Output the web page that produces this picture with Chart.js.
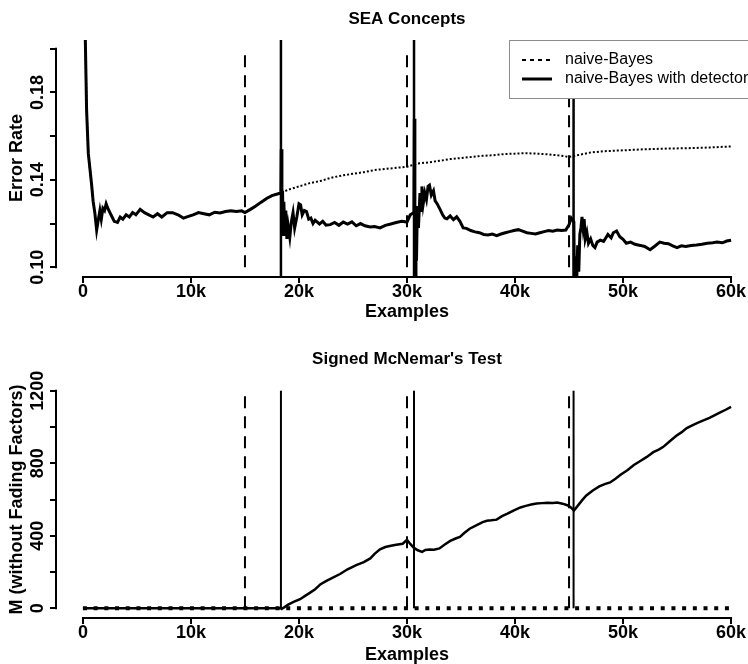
<!DOCTYPE html>
<html>
<head>
<meta charset="utf-8">
<script src="https://cdn.jsdelivr.net/npm/chart.js@4.4.1/dist/chart.umd.min.js"></script>
<style>
    html, body { margin: 0; padding: 0; background: #fff; }
    #wrap { width: 748px; height: 664px; overflow: hidden; }
    canvas { display: block; }
</style>
</head>
<body>
<div id="wrap">
    <canvas id="ErrorChart" width="760" height="332"></canvas>
    <canvas id="McNemarChart" width="760" height="332"></canvas>
</div>
<script>
// x axis (number of examples)
const examples_ticks = [0, 10000, 20000, 30000, 40000, 50000, 60000];
const examples_labels = ['0', '10k', '20k', '30k', '40k', '50k', '60k'];
const examples_range = [-2400, 62400];

// true drifts (dashed) and detections (solid)
const drift_points = [15000, 30000, 45000];
const detect_points = [18330, 30650, 45420];

// error rate, y axis
const error_ticks = [0.10, 0.12, 0.14, 0.16, 0.18, 0.20];
const error_tick_labels = ['0.10', '', '0.14', '', '0.18', ''];
const error_range = [0.096, 0.204];
const error_span = [0.10, 0.20];

// error rate before the first detection (both learners identical)
const err_shared = [
    [0, 0.60], [100, 0.30], [200, 0.21], [340, 0.172], [500, 0.152], [650, 0.145], [800, 0.138],
    [950, 0.130], [1100, 0.125], [1270, 0.117], [1400, 0.121], [1570, 0.126], [1700, 0.122],
    [1850, 0.127], [2000, 0.126], [2150, 0.129], [2300, 0.127], [2500, 0.125], [2700, 0.123],
    [2900, 0.121], [3200, 0.1205], [3450, 0.123], [3700, 0.122], [4000, 0.124], [4300, 0.123],
    [4600, 0.125], [4900, 0.124], [5300, 0.1265], [5700, 0.125], [6100, 0.124], [6500, 0.123],
    [6900, 0.1245], [7300, 0.123], [7800, 0.125], [8300, 0.125], [8800, 0.124], [9300, 0.1225],
    [9700, 0.1232], [10200, 0.124], [10700, 0.125], [11200, 0.1245], [11700, 0.124], [12200, 0.1252],
    [12700, 0.1248], [13200, 0.1255], [13700, 0.1258], [14200, 0.1255], [14700, 0.1258], [15000, 0.125],
    [15500, 0.1265], [16000, 0.128], [16500, 0.1298], [17000, 0.1315], [17500, 0.1328], [18000, 0.1335],
    [18330, 0.134]
];

// naive-Bayes after 18.3k
const err_nb = [
    [19000, 0.1355], [20000, 0.137], [21000, 0.1385], [22000, 0.1395], [23000, 0.141], [24000, 0.142],
    [25000, 0.1428], [26000, 0.1435], [27000, 0.1445], [28000, 0.145], [29000, 0.1455], [30000, 0.146],
    [31000, 0.1475], [32000, 0.148], [33000, 0.1487], [34000, 0.1495], [35000, 0.150], [36000, 0.1505],
    [37000, 0.151], [38000, 0.1513], [39000, 0.1518], [40000, 0.152], [41000, 0.1522], [42000, 0.152],
    [43000, 0.1517], [44000, 0.1512], [45000, 0.1505], [46000, 0.1515], [47000, 0.1525], [48000, 0.153],
    [49000, 0.1533], [50000, 0.1535], [52000, 0.154], [54000, 0.1543], [56000, 0.1545], [58000, 0.1548],
    [60000, 0.1553]
];

// naive-Bayes with detector after 18.3k (restarts at each detection)
const err_det = [
    [18360, 0.154], [18420, 0.122], [18480, 0.135], [18540, 0.115], [18600, 0.13], [18680, 0.118],
    [18780, 0.126], [18880, 0.113], [19000, 0.119], [19150, 0.1138], [19300, 0.121], [19450, 0.125],
    [19600, 0.118], [19800, 0.123], [20000, 0.129], [20150, 0.1285], [20300, 0.124], [20500, 0.126],
    [20700, 0.1255], [20900, 0.122], [21100, 0.1225], [21300, 0.120], [21500, 0.1215], [21700, 0.1207],
    [21900, 0.1198], [22200, 0.121], [22500, 0.1193], [22900, 0.1195], [23300, 0.1205], [23700, 0.1192],
    [24100, 0.1207], [24500, 0.1198], [24900, 0.1208], [25300, 0.119], [25700, 0.120], [26100, 0.119],
    [26600, 0.1184], [27000, 0.1186], [27500, 0.118], [28000, 0.1192], [28500, 0.1198], [29000, 0.1205],
    [29500, 0.121], [30000, 0.1207], [30300, 0.124], [30640, 0.125],
    [30680, 0.168], [30730, 0.100], [30780, 0.092], [30830, 0.125], [30880, 0.103], [30960, 0.128],
    [31060, 0.118], [31200, 0.134], [31300, 0.126], [31380, 0.137], [31500, 0.129], [31650, 0.134],
    [31800, 0.131], [31950, 0.137], [32080, 0.1375], [32250, 0.133], [32450, 0.135], [32600, 0.1305],
    [32800, 0.129], [33060, 0.1265], [33300, 0.124], [33500, 0.1225], [33700, 0.1222], [34000, 0.1235],
    [34300, 0.1218], [34600, 0.1231], [34900, 0.121], [35200, 0.118], [35500, 0.1178], [35900, 0.1168],
    [36300, 0.1162], [36700, 0.1158], [37100, 0.115], [37500, 0.1148], [37900, 0.1152], [38300, 0.1145],
    [38700, 0.1152], [39100, 0.1158], [39500, 0.1163], [39900, 0.1168], [40300, 0.1172], [40700, 0.1165],
    [41100, 0.1158], [41500, 0.1155], [41900, 0.1152], [42300, 0.1158], [42700, 0.1163], [43100, 0.1168],
    [43500, 0.1165], [43900, 0.117], [44300, 0.1168], [44700, 0.117], [45000, 0.1195], [45200, 0.1225],
    [45410, 0.121],
    [45450, 0.12], [45500, 0.09], [45560, 0.105], [45620, 0.085], [45700, 0.092], [45800, 0.11],
    [45900, 0.098], [46000, 0.115], [46100, 0.118], [46200, 0.123], [46300, 0.118], [46400, 0.122],
    [46500, 0.113], [46650, 0.116], [46800, 0.111], [47000, 0.113], [47200, 0.110], [47400, 0.109],
    [47600, 0.1115], [47900, 0.1124], [48200, 0.1118], [48600, 0.115], [48900, 0.1135], [49100, 0.1158],
    [49400, 0.1166], [49700, 0.114], [50000, 0.1128], [50300, 0.111], [50700, 0.1115], [51100, 0.1105],
    [51600, 0.110], [52000, 0.1095], [52500, 0.108], [52900, 0.1095], [53400, 0.1115], [53800, 0.111],
    [54200, 0.1108], [54600, 0.1098], [55000, 0.109], [55400, 0.1098], [55800, 0.1095], [56300, 0.110],
    [56800, 0.1102], [57300, 0.1105], [57800, 0.111], [58300, 0.1112], [58700, 0.1115], [59200, 0.1112],
    [59600, 0.112], [60000, 0.1124]
];

// signed McNemar statistic
const mcnemar_ticks = [0, 200, 400, 600, 800, 1000, 1200];
const mcnemar_tick_labels = ['0', '', '400', '', '800', '', '1200'];
const mcnemar_range = [-48, 1248];
const mcnemar_span = [0, 1200];

const mc_nb = [[0, 0], [60000, 0]];
const mc_det = [
    [0, 0], [18330, 0], [18400, -4], [18700, 8], [19000, 20], [19500, 35], [20100, 50], [20600, 70],
    [21000, 85], [21500, 105], [22000, 133], [22500, 150], [23000, 165], [23800, 189], [24500, 215],
    [25300, 238], [26000, 255], [26600, 275], [27000, 300], [27500, 325], [28000, 338], [28400, 344],
    [29000, 350], [29600, 356], [30000, 378], [30300, 355], [30650, 333], [31000, 320], [31400, 311],
    [31700, 322], [32100, 324], [32500, 323], [33000, 330], [33500, 352], [34000, 372], [34500, 385],
    [34900, 394], [35300, 415], [35800, 439], [36500, 460], [37000, 475], [37400, 483], [37800, 485],
    [38300, 489], [38800, 508], [39300, 522], [39900, 540], [40500, 556], [41000, 565], [41500, 572],
    [42000, 578], [42500, 580], [43000, 582], [43500, 581], [43900, 583], [44400, 577], [44900, 567],
    [45200, 555], [45450, 539], [45800, 565], [46200, 595], [46600, 622], [47200, 650], [47800, 672],
    [48300, 685], [48800, 694], [49300, 715], [49800, 738], [50400, 761], [51000, 790], [51600, 812],
    [52200, 835], [52800, 861], [53300, 875], [53700, 889], [54300, 920], [54900, 950], [55400, 970],
    [55900, 994], [56500, 1012], [57000, 1025], [57500, 1038], [58000, 1050], [58500, 1065],
    [59000, 1080], [59500, 1095], [60000, 1111]
];

Chart.defaults.font.family = '"Liberation Sans", Arial, sans-serif';
Chart.defaults.color = '#000';

const FONT_BOLD = { size: 18, weight: 'bold', lineHeight: 1 };

function toXY(pairs) {
    return pairs.map(p => ({ x: p[0], y: p[1] }));
}

function vLine(x, span, dash, width) {
    return {
        data: [{ x: x, y: span[0] }, { x: x, y: span[1] }],
        borderColor: '#000',
        borderWidth: width || 2,
        borderDash: dash,
        pointRadius: 0,
        order: 3
    };
}

// R style axis line: only from first to last tick
const rAxisLines = {
    id: 'rAxisLines',
    afterDatasetsDraw(chart) {
        const ctx = chart.ctx;
        const area = chart.chartArea;
        const xs = chart.scales.x, ys = chart.scales.y;
        const xt = xs.ticks, yt = ys.ticks;
        ctx.save();
        ctx.strokeStyle = '#000';
        ctx.lineWidth = 2;
        ctx.beginPath();
        ctx.moveTo(xs.getPixelForValue(xt[0].value) - 1, area.bottom + 1);
        ctx.lineTo(xs.getPixelForValue(xt[xt.length - 1].value) + 1, area.bottom + 1);
        ctx.moveTo(area.left - 1, ys.getPixelForValue(yt[0].value) + 1);
        ctx.lineTo(area.left - 1, ys.getPixelForValue(yt[yt.length - 1].value) - 1);
        ctx.stroke();
        ctx.restore();
    }
};

// boxed legend in the top right corner, like R legend("topright")
const boxLegend = {
    id: 'boxLegend',
    afterDraw(chart, args, opts) {
        if (!opts.display) return;
        const ctx = chart.ctx;
        const area = chart.chartArea;
        const w = 248, h = 58;
        const left = area.right - w, top = area.top;
        ctx.save();
        ctx.fillStyle = '#fff';
        ctx.fillRect(left, top, w, h);
        ctx.strokeStyle = '#8c8c8c';
        ctx.lineWidth = 1;
        ctx.strokeRect(left + 0.5, top + 0.5, w, h);
        ctx.font = '16px "Liberation Sans", Arial, sans-serif';
        ctx.textBaseline = 'middle';
        ctx.fillStyle = '#000';
        chart.data.datasets.filter(ds => ds.legendDash).forEach((ds, i) => {
            const y = top + 20 + i * 19;
            ctx.beginPath();
            ctx.setLineDash(ds.legendDash);
            ctx.lineWidth = ds.legendWidth;
            ctx.strokeStyle = '#000';
            ctx.moveTo(left + 13, y);
            ctx.lineTo(left + 43, y);
            ctx.stroke();
            ctx.setLineDash([]);
            ctx.fillText(ds.label, left + 56, y);
        });
        ctx.restore();
    }
};

function fixedTicks(values) {
    return function (scale) {
        scale.ticks = values.map(v => ({ value: v }));
    };
}

function makeOptions(opt) {
    return {
        responsive: false,
        animation: false,
        events: [],
        layout: { padding: { left: 0, right: 3, top: 0, bottom: 0 } },
        plugins: {
            legend: { display: false },
            tooltip: { enabled: false },
            title: {
                display: true,
                text: opt.title,
                fullSize: false,
                color: '#000',
                font: { size: 17, weight: 'bold', lineHeight: 1.2 },
                padding: opt.titlePadding
            },
            boxLegend: { display: opt.legend }
        },
        scales: {
            x: {
                type: 'linear',
                min: examples_range[0],
                max: examples_range[1],
                bounds: 'data',
                afterBuildTicks: fixedTicks(examples_ticks),
                afterFit: function (scale) { scale.height = opt.xHeight; },
                border: { display: false },
                grid: { drawOnChartArea: false, drawTicks: true, tickLength: 7, color: '#000', lineWidth: 2 },
                ticks: {
                    autoSkip: false,
                    maxRotation: 0,
                    padding: 0,
                    font: FONT_BOLD,
                    color: '#000',
                    callback: function (value, index) { return examples_labels[index]; }
                },
                title: {
                    display: true,
                    text: 'Examples',
                    color: '#000',
                    font: FONT_BOLD,
                    padding: { top: 0, bottom: opt.xTitlePad }
                }
            },
            y: {
                type: 'linear',
                min: opt.yRange[0],
                max: opt.yRange[1],
                bounds: 'data',
                afterBuildTicks: fixedTicks(opt.yTicks),
                afterFit: function (scale) { scale.width = 57; },
                border: { display: false },
                grid: { drawOnChartArea: false, drawTicks: true, tickLength: 7, color: '#000', lineWidth: 2 },
                ticks: {
                    autoSkip: false,
                    minRotation: 90,
                    maxRotation: 90,
                    crossAlign: 'center',
                    padding: opt.yTickPad,
                    font: FONT_BOLD,
                    color: '#000',
                    callback: function (value, index) { return opt.yLabels[index]; }
                },
                title: {
                    display: true,
                    text: opt.yTitle,
                    color: '#000',
                    font: FONT_BOLD,
                    padding: { top: 8, bottom: 0 }
                }
            }
        }
    };
}

// top panel: error rates
new Chart(document.getElementById('ErrorChart').getContext('2d'), {
    type: 'line',
    data: {
        datasets: [
            {
                label: 'naive-Bayes',
                data: toXY(err_shared.concat(err_nb)),
                borderColor: '#000',
                borderWidth: 2,
                borderDash: [2, 2],
                pointRadius: 0,
                legendDash: [4, 4],
                legendWidth: 2,
                order: 2
            },
            {
                label: 'naive-Bayes with detector',
                data: toXY(err_shared.concat(err_det)),
                borderColor: '#000',
                borderWidth: 3,
                pointRadius: 0,
                legendDash: [],
                legendWidth: 3,
                order: 1
            }
        ].concat(drift_points.map(x => vLine(x, error_span, [12, 8])))
         .concat(detect_points.map(x => vLine(x, error_range, [], 2.5)))
    },
    options: makeOptions({
        title: 'SEA Concepts',
        titlePadding: { top: 9, bottom: 10.6 },
        legend: true,
        xHeight: 56,
        xTitlePad: 11,
        yRange: error_range,
        yTicks: error_ticks,
        yLabels: error_tick_labels,
        yTickPad: -6,
        yTitle: 'Error Rate'
    }),
    plugins: [rAxisLines, boxLegend]
});

// bottom panel: signed McNemar statistic
new Chart(document.getElementById('McNemarChart').getContext('2d'), {
    type: 'line',
    data: {
        datasets: [
            {
                label: 'naive-Bayes',
                data: toXY(mc_nb),
                borderColor: '#000',
                borderWidth: 4,
                borderDash: [4, 6.7],
                pointRadius: 0,
                order: 2
            },
            {
                label: 'naive-Bayes with detector',
                data: toXY(mc_det),
                borderColor: '#000',
                borderWidth: 2.5,
                pointRadius: 0,
                order: 1
            }
        ].concat(drift_points.map(x => vLine(x, mcnemar_span, [12, 8])))
         .concat(detect_points.map(x => vLine(x, mcnemar_span, [])))
    },
    options: makeOptions({
        title: "Signed McNemar's Test",
        titlePadding: { top: 17, bottom: 12.6 },
        legend: false,
        xHeight: 47,
        xTitlePad: 0,
        yRange: mcnemar_range,
        yTicks: mcnemar_ticks,
        yLabels: mcnemar_tick_labels,
        yTickPad: -8,
        yTitle: 'M (without Fading Factors)'
    }),
    plugins: [rAxisLines]
});
</script>
</body>
</html>
